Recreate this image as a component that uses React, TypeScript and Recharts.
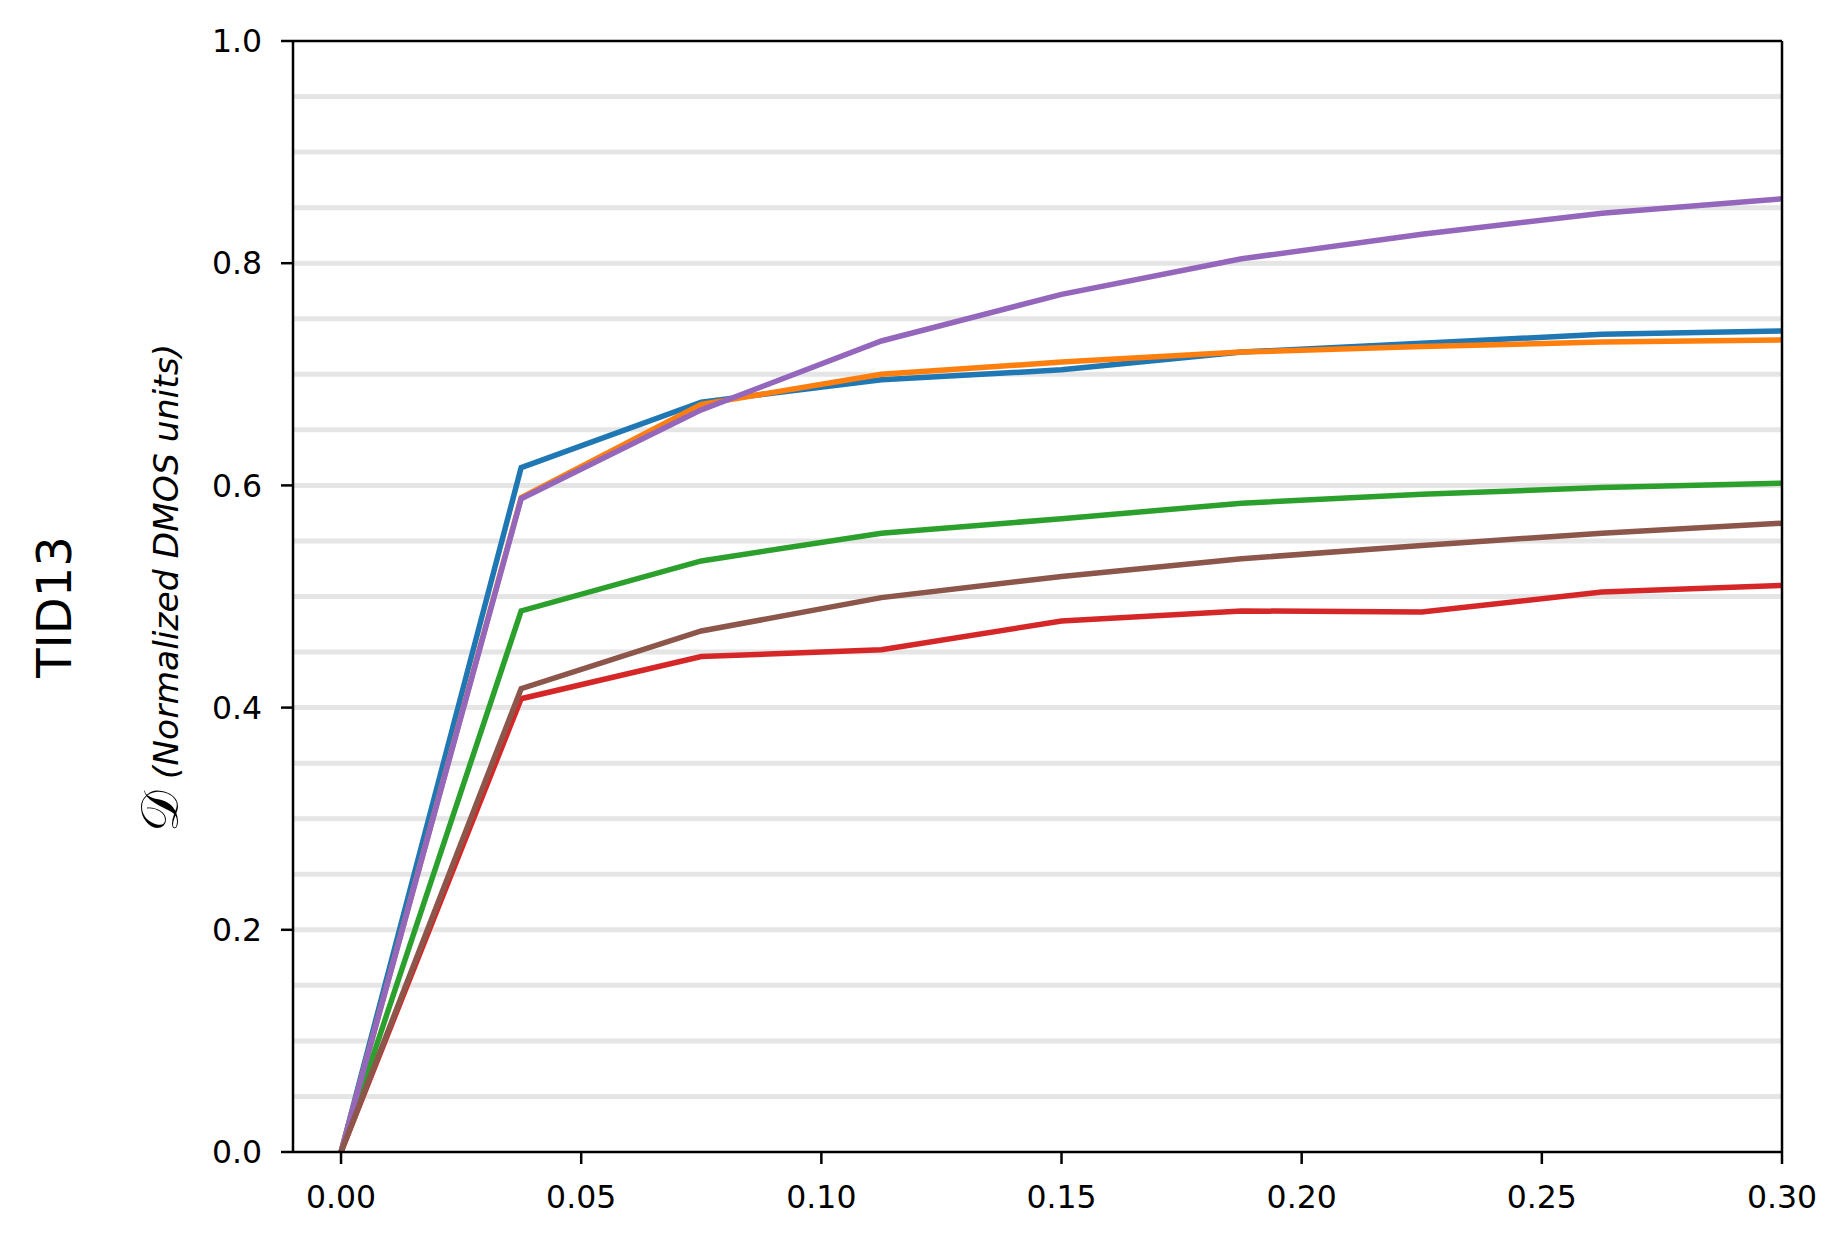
import { LineChart, Line, XAxis, YAxis, CartesianGrid, ReferenceLine } from "recharts";

// sampling positions along x
const xValues = [0, 0.0375, 0.075, 0.1125, 0.15, 0.1875, 0.225, 0.2625, 0.3];

// one array per curve
const blueValues = [0, 0.616, 0.675, 0.695, 0.704, 0.72, 0.728, 0.736, 0.739];
const orangeValues = [0, 0.589, 0.673, 0.7, 0.711, 0.72, 0.725, 0.729, 0.731];
const greenValues = [0, 0.487, 0.532, 0.557, 0.57, 0.584, 0.592, 0.598, 0.602];
const redValues = [0, 0.408, 0.446, 0.452, 0.478, 0.487, 0.486, 0.504, 0.51];
const purpleValues = [0, 0.588, 0.668, 0.73, 0.772, 0.804, 0.826, 0.845, 0.858];
const brownValues = [0, 0.417, 0.469, 0.499, 0.518, 0.534, 0.546, 0.557, 0.566];

const xTicks = [0, 0.05, 0.1, 0.15, 0.2, 0.25, 0.3];
const yTicks = [0, 0.2, 0.4, 0.6, 0.8, 1.0];
const gridValues = [
  0.05, 0.1, 0.15, 0.2, 0.25, 0.3, 0.35, 0.4, 0.45, 0.5, 0.55, 0.6, 0.65, 0.7, 0.75, 0.8, 0.85, 0.9, 0.95,
];

const SERIES = [
  { key: "blue", values: blueValues, color: "#1f77b4" },
  { key: "orange", values: orangeValues, color: "#ff7f0e" },
  { key: "green", values: greenValues, color: "#2ca02c" },
  { key: "red", values: redValues, color: "#d62728" },
  { key: "purple", values: purpleValues, color: "#9467bd" },
  { key: "brown", values: brownValues, color: "#8c564b" },
];

const data = xValues.map((x, i) => {
  const row: Record<string, number> = { x };
  SERIES.forEach((s) => (row[s.key] = s.values[i]));
  return row;
});

const FONT = "'DejaVu Sans', sans-serif";
const tickStyle = { fontSize: 31.5, fill: "#000", fontFamily: FONT };

export default function App() {
  return (
    <div style={{ position: "absolute", left: 0, top: 0, width: 1848, height: 1243, background: "#fff" }}>
      <LineChart
        width={1848}
        height={1243}
        data={data}
        margin={{ top: 41, right: 66, bottom: 41, left: 193 }}
      >
        <CartesianGrid
          horizontal
          vertical={false}
          horizontalValues={gridValues}
          stroke="#e5e5e5"
          strokeWidth={5}
        />
        <XAxis
          dataKey="x"
          type="number"
          domain={[-0.01, 0.3]}
          ticks={xTicks}
          tickFormatter={(v: number) => v.toFixed(2)}
          tick={tickStyle}
          tickSize={12}
          tickMargin={22}
          height={50}
          axisLine={{ stroke: "#000", strokeWidth: 2.5 }}
          tickLine={{ stroke: "#000", strokeWidth: 2.5 }}
          allowDataOverflow
        />
        <YAxis
          type="number"
          domain={[0, 1]}
          ticks={yTicks}
          tickFormatter={(v: number) => v.toFixed(1)}
          tick={tickStyle}
          tickSize={12}
          tickMargin={19}
          width={100}
          axisLine={{ stroke: "#000", strokeWidth: 2.5 }}
          tickLine={{ stroke: "#000", strokeWidth: 2.5 }}
          allowDataOverflow
        />
        {SERIES.map((s) => (
          <Line
            key={s.key}
            type="linear"
            dataKey={s.key}
            stroke={s.color}
            strokeWidth={5.5}
            dot={false}
            activeDot={false}
            isAnimationActive={false}
          />
        ))}
        <ReferenceLine y={1} stroke="#000" strokeWidth={2.5} />
        <ReferenceLine x={0.3} stroke="#000" strokeWidth={2.5} />
      </LineChart>
      <svg
        width={1848}
        height={1243}
        style={{ position: "absolute", left: 0, top: 0, pointerEvents: "none" }}
      >
        <text
          x={71}
          y={607}
          transform="rotate(-90, 71, 607)"
          textAnchor="middle"
          fontFamily={FONT}
          fontSize={48}
          fill="#000"
        >
          TID13
        </text>
        <text
          x={178}
          y={588}
          transform="rotate(-90, 178, 588)"
          textAnchor="middle"
          fontFamily={FONT}
          fill="#000"
        >
          <tspan fontSize={52} fontFamily="'DejaVu Serif', serif">𝒟</tspan>
          <tspan fontSize={34.5} fontStyle="italic">{"  (Normalized DMOS units)"}</tspan>
        </text>
      </svg>
    </div>
  );
}
